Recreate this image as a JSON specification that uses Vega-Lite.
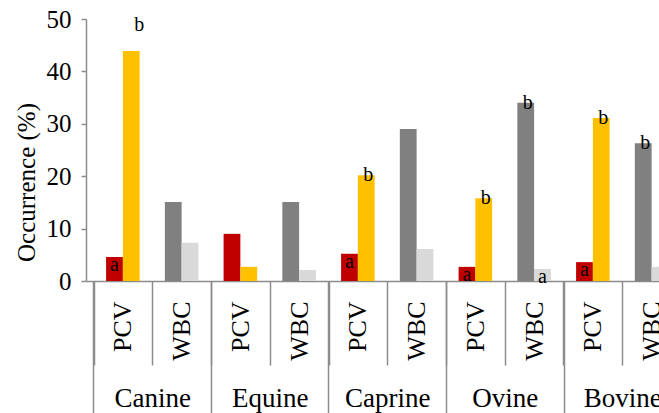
{
  "$schema": "https://vega.github.io/schema/vega-lite/v6.json",
  "width": 602.5,
  "height": 262,
  "autosize": "none",
  "padding": {"left": 86, "top": 19, "right": 0, "bottom": 132},
  "config": {
    "view": {"stroke": null},
    "font": "Liberation Serif",
    "axis": {
      "labelFont": "Liberation Serif",
      "titleFont": "Liberation Serif",
      "labelColor": "#000000",
      "titleColor": "#000000",
      "domainColor": "#8c8c8c",
      "tickColor": "#8c8c8c",
      "domainWidth": 1.5,
      "tickWidth": 1.5,
      "grid": false
    }
  },
  "data": {
    "values": [
      {"species": "Canine", "test": "PCV", "slot": "Canine|PCV", "pos": "1", "series": "PCV-1", "value": 4.6, "letter": "a"},
      {"species": "Canine", "test": "PCV", "slot": "Canine|PCV", "pos": "2", "series": "PCV-2", "value": 43.9, "letter": "b"},
      {"species": "Canine", "test": "WBC", "slot": "Canine|WBC", "pos": "1", "series": "WBC-1", "value": 15.1, "letter": ""},
      {"species": "Canine", "test": "WBC", "slot": "Canine|WBC", "pos": "2", "series": "WBC-2", "value": 7.3, "letter": ""},
      {"species": "Equine", "test": "PCV", "slot": "Equine|PCV", "pos": "1", "series": "PCV-1", "value": 9.0, "letter": ""},
      {"species": "Equine", "test": "PCV", "slot": "Equine|PCV", "pos": "2", "series": "PCV-2", "value": 2.7, "letter": ""},
      {"species": "Equine", "test": "WBC", "slot": "Equine|WBC", "pos": "1", "series": "WBC-1", "value": 15.1, "letter": ""},
      {"species": "Equine", "test": "WBC", "slot": "Equine|WBC", "pos": "2", "series": "WBC-2", "value": 2.1, "letter": ""},
      {"species": "Caprine", "test": "PCV", "slot": "Caprine|PCV", "pos": "1", "series": "PCV-1", "value": 5.2, "letter": "a"},
      {"species": "Caprine", "test": "PCV", "slot": "Caprine|PCV", "pos": "2", "series": "PCV-2", "value": 20.2, "letter": "b"},
      {"species": "Caprine", "test": "WBC", "slot": "Caprine|WBC", "pos": "1", "series": "WBC-1", "value": 29.0, "letter": ""},
      {"species": "Caprine", "test": "WBC", "slot": "Caprine|WBC", "pos": "2", "series": "WBC-2", "value": 6.1, "letter": ""},
      {"species": "Ovine", "test": "PCV", "slot": "Ovine|PCV", "pos": "1", "series": "PCV-1", "value": 2.7, "letter": "a"},
      {"species": "Ovine", "test": "PCV", "slot": "Ovine|PCV", "pos": "2", "series": "PCV-2", "value": 15.8, "letter": "b"},
      {"species": "Ovine", "test": "WBC", "slot": "Ovine|WBC", "pos": "1", "series": "WBC-1", "value": 34.0, "letter": "b"},
      {"species": "Ovine", "test": "WBC", "slot": "Ovine|WBC", "pos": "2", "series": "WBC-2", "value": 2.3, "letter": "a"},
      {"species": "Bovine", "test": "PCV", "slot": "Bovine|PCV", "pos": "1", "series": "PCV-1", "value": 3.6, "letter": "a"},
      {"species": "Bovine", "test": "PCV", "slot": "Bovine|PCV", "pos": "2", "series": "PCV-2", "value": 31.1, "letter": "b"},
      {"species": "Bovine", "test": "WBC", "slot": "Bovine|WBC", "pos": "1", "series": "WBC-1", "value": 26.3, "letter": "b"},
      {"species": "Bovine", "test": "WBC", "slot": "Bovine|WBC", "pos": "2", "series": "WBC-2", "value": 2.7, "letter": ""}
    ]
  },
  "layer": [
    {
      "encoding": {
        "x": {
          "field": "slot",
          "type": "nominal",
          "sort": ["Canine|PCV", "Canine|WBC", "Equine|PCV", "Equine|WBC", "Caprine|PCV", "Caprine|WBC", "Ovine|PCV", "Ovine|WBC", "Bovine|PCV", "Bovine|WBC"],
          "scale": {"paddingInner": 0, "paddingOuter": 0.1277},
          "axis": {
            "title": null,
            "labelExpr": "split(datum.value, '|')[1]",
            "tickBand": "extent",
            "tickSize": 84,
            "labelAngle": 270,
            "labelAlign": "right",
            "labelBaseline": "middle",
            "labelPadding": -64,
            "labelFontSize": 26,
            "labelOverlap": false
          }
        },
        "xOffset": {
          "field": "pos",
          "type": "nominal",
          "sort": ["1", "2"],
          "scale": {"paddingInner": 0, "paddingOuter": 0.75}
        },
        "y": {
          "field": "value",
          "type": "quantitative",
          "scale": {"domain": [0, 50], "nice": false},
          "axis": {
            "values": [0, 10, 20, 30, 40, 50],
            "title": "Occurrence (%)",
            "titleFontSize": 25,
            "titleFontWeight": "normal",
            "labelFontSize": 25,
            "tickSize": 5,
            "labelPadding": 10,
            "titleX": -60,
            "titleY": 163,
            "titleAngle": 270,
            "titleAlign": "center",
            "titleBaseline": "middle"
          }
        }
      },
      "layer": [
        {
          "mark": {"type": "bar"},
          "encoding": {
            "color": {
              "field": "series",
              "type": "nominal",
              "scale": {"domain": ["PCV-1", "PCV-2", "WBC-1", "WBC-2"], "range": ["#C00000", "#FFC000", "#808080", "#D9D9D9"]},
              "legend": null
            }
          }
        },
        {
          "transform": [{"filter": "datum.letter == 'a'"}],
          "mark": {"type": "text", "fontSize": 20, "baseline": "middle", "dy": 8, "color": "#000000", "font": "Liberation Serif"},
          "encoding": {"text": {"field": "letter"}}
        },
        {
          "transform": [{"filter": "datum.letter == 'b' && datum.species != 'Canine'"}],
          "mark": {"type": "text", "fontSize": 20, "baseline": "middle", "dy": 0, "dx": 2, "color": "#000000", "font": "Liberation Serif"},
          "encoding": {"text": {"field": "letter"}}
        },
        {
          "transform": [{"filter": "datum.letter == 'b' && datum.species == 'Canine'"}],
          "mark": {"type": "text", "fontSize": 20, "baseline": "middle", "dy": -26, "dx": 8, "color": "#000000", "font": "Liberation Serif"},
          "encoding": {"text": {"field": "letter"}}
        }
      ]
    },
    {
      "mark": {"type": "rule", "strokeOpacity": 0},
      "encoding": {
        "x": {
          "field": "species",
          "type": "nominal",
          "sort": ["Canine", "Equine", "Caprine", "Ovine", "Bovine"],
          "scale": {"paddingInner": 0, "paddingOuter": 0.0638},
          "axis": {
            "orient": "bottom",
            "title": null,
            "domain": false,
            "tickBand": "extent",
            "tickSize": 132,
            "labelAngle": 0,
            "labelAlign": "center",
            "labelBaseline": "alphabetic",
            "labelPadding": -7,
            "labelFontSize": 27,
            "labelOverlap": false
          }
        }
      }
    }
  ],
  "resolve": {"scale": {"x": "independent"}, "axis": {"x": "independent"}}
}
